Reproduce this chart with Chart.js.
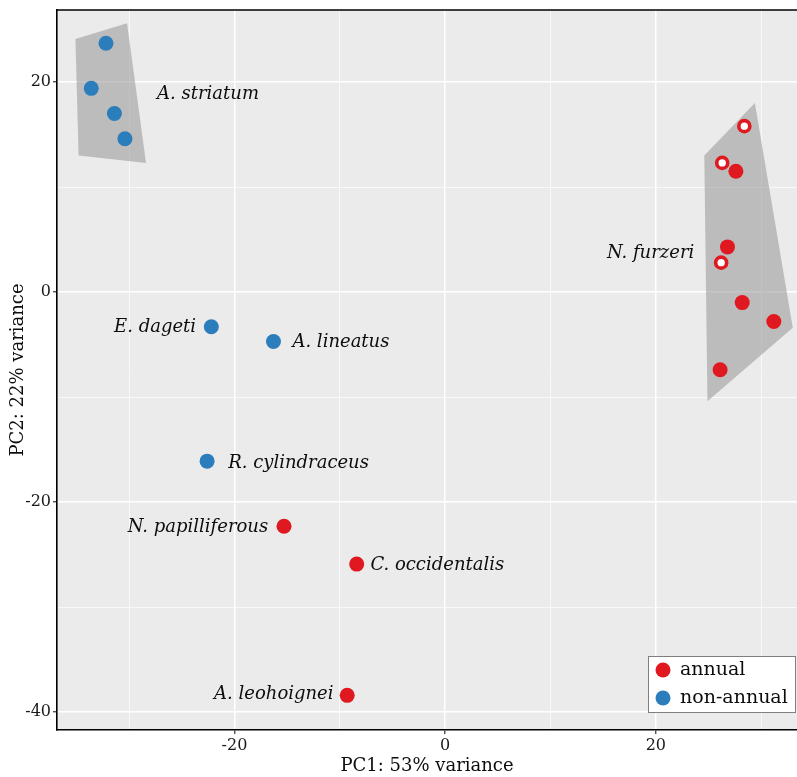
<!DOCTYPE html>
<html>
<head>
<meta charset="utf-8">
<script src="https://cdn.jsdelivr.net/npm/chart.js@4.4.1/dist/chart.umd.min.js"></script>
<style>
  html, body { margin: 0; padding: 0; background: #ffffff; overflow: hidden; }
  #pca { display: block; }
</style>
</head>
<body>
<canvas id="pca" width="797" height="777"></canvas>
<script>
// PCA scores (PC1, PC2) per sample
const annualX = [-15.3, -8.4, -9.3, 27.6, 26.8, 28.2, 31.2, 26.1];
const annualY = [-22.3, -25.9, -38.4, 11.5, 4.3, -1.0, -2.8, -7.4];
// N. furzeri samples drawn as open rings
const annualOpenX = [28.4, 26.3, 26.2];
const annualOpenY = [15.8, 12.3, 2.8];
const nonAnnualX = [-32.2, -33.6, -31.4, -30.4, -22.2, -16.3, -22.6];
const nonAnnualY = [23.7, 19.4, 17.0, 14.6, -3.3, -4.7, -16.1];

// Hull outlines around the replicated species
const striatumHullX = [-35.1, -30.2, -28.4, -34.8];
const striatumHullY = [24.1, 25.6, 12.3, 13.0];
const furzeriHullX = [24.6, 29.4, 33.0, 24.9];
const furzeriHullY = [13.0, 18.0, -3.4, -10.4];

// Species labels (text, anchor in data units, alignment)
const speciesNames = ["A. striatum", "E. dageti", "A. lineatus", "R. cylindraceus",
  "N. papilliferous", "C. occidentalis", "A. leohoignei", "N. furzeri"];
const speciesLabelX = [-27.35, -23.65, -14.5, -20.6, -16.8, -7.1, -10.6, 23.65];
const speciesLabelY = [18.8, -3.35, -4.75, -16.3, -22.4, -26.0, -38.3, 3.7];
const speciesAlign = ["left", "right", "left", "left", "right", "left", "right", "right"];

// Axis ticks
const xTicks = [-30, -20, -10, 0, 10, 20, 30];
const yTicks = [-40, -30, -20, -10, 0, 10, 20];
const xRange = [-36.85, 33.4];
const yRange = [-41.7, 26.86];

const groupNames = ["annual", "non-annual"];
const RED = "#e0181f";
const BLUE = "#2c7dbb";
const SERIF = "'DejaVu Serif', 'Liberation Serif', serif";

const zip = (xs, ys) => xs.map((x, i) => ({ x: x, y: ys[i] }));

const panelBg = {
  id: "panelBg",
  beforeDraw(chart) {
    const a = chart.chartArea, c = chart.ctx;
    c.save();
    c.fillStyle = "#ebebeb";
    c.fillRect(a.left, a.top, a.right - a.left, a.bottom - a.top);
    c.restore();
  },
  afterDraw(chart) {
    const a = chart.chartArea, c = chart.ctx;
    c.save();
    c.strokeStyle = "#000";
    c.lineWidth = 1.6;
    c.beginPath();
    c.moveTo(a.left, a.top);
    c.lineTo(a.right, a.top);
    c.stroke();
    c.restore();
  }
};

const speciesLabels = {
  id: "speciesLabels",
  afterDatasetsDraw(chart) {
    const c = chart.ctx, sx = chart.scales.x, sy = chart.scales.y;
    c.save();
    c.font = "italic 18px " + SERIF;
    c.fillStyle = "#0d0d0d";
    c.textBaseline = "middle";
    speciesNames.forEach((t, i) => {
      c.textAlign = speciesAlign[i];
      c.fillText(t, sx.getPixelForValue(speciesLabelX[i]), sy.getPixelForValue(speciesLabelY[i]));
    });
    c.restore();
  }
};

const boxLegend = {
  id: "boxLegend",
  afterDraw(chart) {
    const a = chart.chartArea, c = chart.ctx;
    const w = 148, h = 57;
    const x0 = a.right - w - 1, y0 = a.bottom - h - 17;
    c.save();
    c.fillStyle = "#ffffff";
    c.fillRect(x0, y0, w, h);
    c.strokeStyle = "#7f7f7f";
    c.lineWidth = 1;
    c.strokeRect(x0 + 0.5, y0 + 0.5, w - 1, h - 1);
    const colors = [RED, BLUE];
    c.font = "19px " + SERIF;
    c.textBaseline = "middle";
    c.textAlign = "left";
    groupNames.forEach((g, i) => {
      const cy = y0 + 14 + i * 28;
      c.fillStyle = colors[i];
      c.beginPath();
      c.arc(x0 + 15, cy, 7.5, 0, Math.PI * 2);
      c.fill();
      c.fillStyle = "#0d0d0d";
      c.fillText(g, x0 + 32, cy);
    });
    c.restore();
  }
};

const isMajor = v => Math.abs(v % 20) < 1e-9;

new Chart(document.getElementById("pca"), {
  type: "scatter",
  data: {
    datasets: [
      {
        label: "A. striatum hull",
        data: zip(striatumHullX, striatumHullY),
        showLine: true, fill: "shape", tension: 0,
        backgroundColor: "rgba(150,150,150,0.55)",
        borderWidth: 0, pointRadius: 0, order: 10
      },
      {
        label: "N. furzeri hull",
        data: zip(furzeriHullX, furzeriHullY),
        showLine: true, fill: "shape", tension: 0,
        backgroundColor: "rgba(150,150,150,0.55)",
        borderWidth: 0, pointRadius: 0, order: 10
      },
      {
        label: groupNames[1],
        data: zip(nonAnnualX, nonAnnualY),
        backgroundColor: BLUE, borderWidth: 0, pointRadius: 7.5, order: 1
      },
      {
        label: groupNames[0],
        data: zip(annualX, annualY),
        backgroundColor: RED, borderWidth: 0, pointRadius: 7.5, order: 1
      },
      {
        label: groupNames[0] + " (open)",
        data: zip(annualOpenX, annualOpenY),
        backgroundColor: "#ffffff", borderColor: RED, borderWidth: 3.6,
        pointRadius: 5.5, order: 0
      }
    ]
  },
  options: {
    responsive: false,
    animation: false,
    layout: { autoPadding: false, padding: { top: 10, right: 0, left: 0, bottom: 0 } },
    plugins: { legend: { display: false }, tooltip: { enabled: false } },
    elements: { point: { hoverRadius: 7.5 } },
    scales: {
      x: {
        type: "linear", min: xRange[0], max: xRange[1],
        afterBuildTicks: s => { s.ticks = xTicks.map(v => ({ value: v })); },
        afterFit: s => { s.height = 47; s.paddingLeft = 0; s.paddingRight = 0; },
        ticks: {
          color: "#1a1a1a", font: { family: SERIF, size: 16 }, padding: 2, maxRotation: 0,
          callback: v => isMajor(v) ? String(v) : ""
        },
        grid: {
          color: "#ffffff",
          lineWidth: c => isMajor(c.tick.value) ? 1.5 : 0.7,
          drawTicks: true, tickLength: 4,
          tickColor: c => isMajor(c.tick.value) ? "#333" : "rgba(0,0,0,0)",
          tickWidth: 1.2
        },
        border: { display: true, color: "#000", width: 1.6 },
        title: { display: true, text: "PC1: 53% variance", color: "#0d0d0d",
          font: { family: SERIF, size: 18 }, padding: { top: 0, bottom: 0 } }
      },
      y: {
        type: "linear", min: yRange[0], max: yRange[1],
        afterBuildTicks: s => { s.ticks = yTicks.map(v => ({ value: v })); },
        afterFit: s => { s.width = 57; s.paddingTop = 0; s.paddingBottom = 0; },
        ticks: {
          color: "#1a1a1a", font: { family: SERIF, size: 16 }, padding: 2,
          callback: v => isMajor(v) ? String(v) : ""
        },
        grid: {
          color: "#ffffff",
          lineWidth: c => isMajor(c.tick.value) ? 1.5 : 0.7,
          drawTicks: true, tickLength: 4,
          tickColor: c => isMajor(c.tick.value) ? "#333" : "rgba(0,0,0,0)",
          tickWidth: 1.2
        },
        border: { display: true, color: "#000", width: 1.6 },
        title: { display: true, text: "PC2: 22% variance", color: "#0d0d0d",
          font: { family: SERIF, size: 18 }, padding: { top: 8, bottom: 4 } }
      }
    }
  },
  plugins: [panelBg, speciesLabels, boxLegend]
});
</script>
</body>
</html>
